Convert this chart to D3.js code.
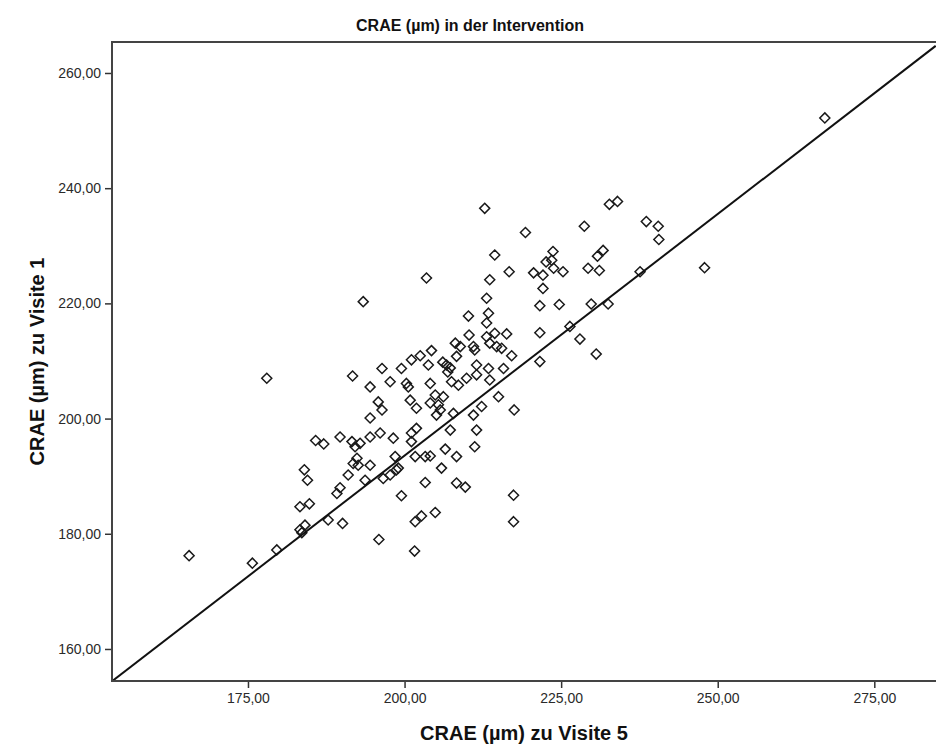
<!DOCTYPE html>
<html>
<head>
<meta charset="utf-8">
<script src="https://cdn.jsdelivr.net/npm/d3@7"></script>
<style>
  html, body { margin: 0; padding: 0; background: #fff; }
  svg { display: block; }
  text { font-family: Arial, "Liberation Sans", sans-serif; }
</style>
</head>
<body>
<svg id="chart" width="936" height="748"></svg>
<script>
// CRAE (µm) at visit 5 (x) and visit 1 (y), one pair per subject
const visit5 = [
  178.0, 185.8, 187.1, 189.7, 184.0, 184.5, 191.0, 183.3, 184.8, 189.2,
  189.7, 183.3, 184.1, 183.6, 187.8, 190.1, 179.6, 175.7, 165.6,
  212.8, 219.3, 214.4, 216.7, 220.6, 213.6, 203.5, 193.4, 213.1, 213.4,
  210.2, 213.1, 210.3, 213.1, 214.4, 216.3, 208.1, 208.9, 211.0, 211.2,
  213.6, 214.7, 215.5, 204.3, 202.5, 201.1, 217.1,
  191.7, 196.4, 199.5, 203.8, 206.1, 206.7, 207.3, 206.9, 208.3, 211.5,
  213.4, 215.8, 213.6, 211.5, 209.9, 221.6, 207.5, 208.6, 204.1, 197.7,
  194.5, 200.3, 200.6, 200.9, 201.9, 204.9, 204.1, 205.4, 206.2, 205.1,
  205.7, 195.8, 196.4, 194.5, 207.8, 211.0, 212.3, 215.0, 217.5, 201.9,
  201.1, 207.3, 211.5, 198.2, 196.1, 194.5, 192.9, 192.1, 191.6, 201.1,
  211.2, 206.5, 208.3, 198.5, 201.7, 203.3, 204.1, 192.4, 191.8, 192.6,
  194.5, 199.0, 198.7, 205.9, 196.6, 197.7, 193.7, 203.3, 208.3, 209.7,
  199.5, 217.4, 204.9, 202.7, 201.7, 217.4,
  232.7, 234.0, 228.7, 238.6, 240.5, 240.6, 231.7, 230.8, 229.3, 231.1,
  223.7, 222.6, 223.5, 223.8, 222.1, 225.3, 222.1, 237.6, 247.9, 221.6,
  224.7, 229.8, 232.5, 226.4, 228.0, 221.6, 230.6,
  267.1, 195.9, 201.6
];
const visit1 = [
  207.0, 196.2, 195.6, 196.8, 191.1, 189.3, 190.2, 184.7, 185.2, 187.0,
  188.0, 180.7, 181.5, 180.2, 182.4, 181.8, 177.2, 174.9, 176.2,
  236.5, 232.3, 228.4, 225.5, 225.3, 224.1, 224.4, 220.3, 220.9, 218.3,
  217.8, 216.6, 214.5, 214.2, 214.8, 214.7, 213.1, 212.5, 212.5, 211.9,
  213.1, 212.5, 212.2, 211.8, 210.9, 210.2, 210.9,
  207.4, 208.7, 208.7, 209.3, 209.8, 209.3, 208.8, 208.1, 210.8, 209.3,
  208.7, 208.7, 206.7, 207.6, 207.0, 209.9, 206.4, 205.8, 206.1, 206.4,
  205.5, 206.1, 205.5, 203.2, 201.8, 204.1, 202.7, 202.4, 203.8, 200.6,
  201.5, 202.9, 201.5, 200.1, 200.9, 200.6, 202.1, 203.8, 201.5, 198.3,
  197.5, 198.0, 198.0, 196.6, 197.5, 196.8, 195.7, 195.1, 196.0, 196.0,
  195.1, 194.7, 193.4, 193.4, 193.4, 193.4, 193.5, 193.1, 192.2, 191.9,
  191.9, 191.4, 191.1, 191.4, 189.6, 190.2, 189.3, 188.9, 188.8, 188.1,
  186.6, 186.7, 183.7, 183.1, 182.1, 182.1,
  237.2, 237.7, 233.4, 234.2, 233.4, 231.1, 229.2, 228.2, 226.1, 225.7,
  229.0, 227.2, 227.5, 226.1, 224.9, 225.5, 222.6, 225.5, 226.2, 219.6,
  219.8, 219.9, 219.9, 216.0, 213.8, 214.9, 211.2,
  252.2, 179.0, 177.0
];

// Straight reference line across the plot, given by its two end points
const lineX = [153.3, 284.8];
const lineY = [154.4, 264.7];

// Axis ticks
const xTicks = [175, 200, 225, 250, 275];
const yTicks = [160, 180, 200, 220, 240, 260];

const titleText = "CRAE (µm) in der Intervention";
const xLabel = "CRAE (µm) zu Visite 5";
const yLabel = "CRAE (µm) zu Visite 1";

const W = 936, H = 748;
const plot = { left: 112, top: 42, right: 936, bottom: 681 };

const svg = d3.select("#chart");

const x = d3.scaleLinear().domain([153.29, 284.85]).range([plot.left, plot.right]);
const y = d3.scaleLinear().domain([154.44, 265.38]).range([plot.bottom, plot.top]);

const de = d3.formatLocale({ decimal: ",", thousands: ".", grouping: [3], currency: ["", " €"] });
const fmt = de.format(".2f");

svg.append("rect").attr("width", W).attr("height", H).attr("fill", "#fff");

svg.append("clipPath").attr("id", "plotclip")
  .append("rect")
  .attr("x", plot.left).attr("y", plot.top)
  .attr("width", plot.right - plot.left).attr("height", plot.bottom - plot.top);

// Markers: hollow diamonds
const pts = visit5.map((v, i) => [v, visit1[i]]);
const diamond = d3.symbol().type(d3.symbolDiamond2).size(64);
svg.append("g").attr("clip-path", "url(#plotclip)")
  .selectAll("path.pt").data(pts).join("path")
  .attr("class", "pt")
  .attr("d", diamond)
  .attr("transform", d => `translate(${x(d[0])},${y(d[1])})`)
  .attr("fill", "none")
  .attr("stroke", "#1a1a1a")
  .attr("stroke-width", 1.5);

// Reference line
svg.append("g").attr("clip-path", "url(#plotclip)")
  .append("line")
  .attr("x1", x(lineX[0])).attr("y1", y(lineY[0]))
  .attr("x2", x(lineX[1])).attr("y2", y(lineY[1]))
  .attr("stroke", "#111").attr("stroke-width", 2);

// Axes
const xAxis = d3.axisBottom(x).tickValues(xTicks).tickFormat(fmt).tickSize(7).tickPadding(5);
const yAxis = d3.axisLeft(y).tickValues(yTicks).tickFormat(fmt).tickSize(7).tickPadding(4);

const gx = svg.append("g").attr("transform", `translate(0,${plot.bottom})`).call(xAxis);
const gy = svg.append("g").attr("transform", `translate(${plot.left},0)`).call(yAxis);
[gx, gy].forEach(g => {
  g.select(".domain").remove();
  g.selectAll(".tick line").attr("stroke", "#333").attr("stroke-width", 1.5);
  g.selectAll(".tick text").attr("fill", "#2a2a2a").style("font-size", "14px");
});

// Plot frame
svg.append("rect")
  .attr("x", plot.left).attr("y", plot.top)
  .attr("width", plot.right - plot.left + 2).attr("height", plot.bottom - plot.top)
  .attr("fill", "none").attr("stroke", "#444").attr("stroke-width", 2);

// Titles
svg.append("text")
  .attr("x", 470).attr("y", 31)
  .attr("text-anchor", "middle")
  .style("font-size", "16px").style("font-weight", "bold").attr("fill", "#111")
  .text(titleText);

svg.append("text")
  .attr("x", (plot.left + plot.right) / 2).attr("y", 740)
  .attr("text-anchor", "middle")
  .style("font-size", "20px").style("font-weight", "bold").attr("fill", "#111")
  .text(xLabel);

svg.append("text")
  .attr("transform", `translate(44,${(plot.top + plot.bottom) / 2}) rotate(-90)`)
  .attr("text-anchor", "middle")
  .style("font-size", "20px").style("font-weight", "bold").attr("fill", "#111")
  .text(yLabel);
</script>
</body>
</html>
